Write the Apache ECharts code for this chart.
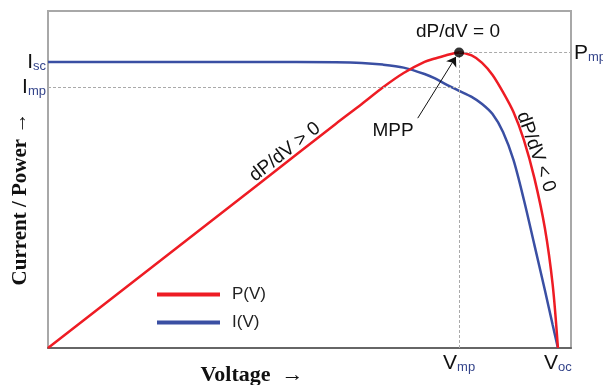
<!DOCTYPE html>
<html>
<head>
<meta charset="utf-8">
<script src="https://cdn.jsdelivr.net/npm/echarts@6/dist/echarts.min.js"></script>
<style>
  * { margin: 0; padding: 0; }
  body { background: #fff; }
  #chart { width: 603px; height: 385px; }
</style>
</head>
<body>
<div id="chart"></div>
<script>
// voltage samples (0..100 = full width of the plot box)
var voltage = [0, 40, 55, 60, 64, 68, 72, 74, 76, 78.6, 81, 83, 85, 87, 89, 91, 93, 95, 96.5, 97.5];
// I(V)
var current = [84.9, 84.9, 84.8, 84.6, 84.1, 83.2, 81.3, 80.0, 78.3, 76.3, 74.5, 72.4, 69.4, 64.1, 55.8, 43.9, 30.6, 17.2, 6.8, 0];
// P(V)
var power = [0, 48.3, 66.5, 72.4, 77.3, 81.6, 84.9, 85.9, 86.8, 87.7, 86.8, 84.6, 81.0, 75.9, 70.0, 61.7, 50.4, 35.6, 18.7, 0];

// key points
var vmp = 78.6, voc = 97.5;
var isc = 84.9, imp = 77.4, pmp = 87.7;
var xTicks = [vmp, voc];
var xTickLabels = ['{m|V}{s|mp}', '{m|V}{s|oc}'];
var yTicks = [isc, imp];
var yTickLabels = ['{m|I}{s|sc}', '{m|I}{s|mp}'];
var rightTicks = [pmp];
var rightTickLabels = ['{m|P}{s|mp}'];
var mppArrow = [[70.7, 68.2], [78.0, 86.4]];

var sans = 'Liberation Sans, Arial, sans-serif';
var serif = 'Liberation Serif, Times New Roman, serif';
var rich = {
  m: { fontSize: 21, fontFamily: sans, color: '#111', verticalAlign: 'bottom', lineHeight: 22 },
  s: { fontSize: 13, fontFamily: sans, color: '#34448a', verticalAlign: 'bottom', lineHeight: 13 }
};

function pick(ticks, labels) {
  return function (v) {
    for (var i = 0; i < ticks.length; i++) {
      if (Math.abs(ticks[i] - v) < 1e-6) return labels[i];
    }
    return '';
  };
}

var chart = echarts.init(document.getElementById('chart'));
chart.setOption({
  animation: false,
  backgroundColor: '#fff',
  grid: {
    left: 48, right: 32, top: 11, bottom: 37,
    outerBoundsMode: 'none',
    containLabel: false,
    show: true, borderColor: '#a8a8a8', borderWidth: 2
  },
  legend: {
    data: ['P(V)', 'I(V)'],
    orient: 'vertical',
    left: 157, top: 286,
    padding: 0,
    icon: 'rect',
    itemWidth: 63, itemHeight: 4, itemGap: 11,
    textStyle: { fontSize: 17, fontFamily: sans, color: '#222', padding: [0, 0, 0, 7] }
  },
  xAxis: {
    type: 'value', min: 0, max: 100,
    splitLine: { show: false },
    axisTick: { show: false },
    axisLine: { lineStyle: { color: '#666', width: 2 } },
    axisLabel: {
      customValues: xTicks,
      formatter: pick(xTicks, xTickLabels),
      rich: rich, margin: 4
    }
  },
  yAxis: [{
    type: 'value', min: 0, max: 100,
    splitLine: { show: false },
    axisTick: { show: false },
    axisLine: { show: true, lineStyle: { color: '#a8a8a8', width: 2 } },
    axisLabel: {
      customValues: yTicks,
      formatter: pick(yTicks, yTickLabels),
      rich: rich, margin: 2
    }
  }, {
    type: 'value', min: 0, max: 100, position: 'right',
    splitLine: { show: false },
    axisTick: { show: false },
    axisLine: { show: false },
    axisLabel: {
      customValues: rightTicks,
      formatter: pick(rightTicks, rightTickLabels),
      rich: rich, margin: 3
    }
  }],
  series: [{
    name: 'I(V)',
    type: 'line',
    data: voltage.map(function (v, i) { return [v, current[i]]; }),
    smooth: 0.3,
    showSymbol: false,
    lineStyle: { color: '#3a4fa3', width: 2.5 },
    itemStyle: { color: '#3a4fa3' }
  }, {
    name: 'P(V)',
    type: 'line',
    data: voltage.map(function (v, i) { return [v, power[i]]; }),
    smooth: 0.3,
    showSymbol: false,
    lineStyle: { color: '#ee1c24', width: 2.5 },
    itemStyle: { color: '#ee1c24' }
  }, {
    name: 'MPP',
    type: 'scatter',
    data: [[vmp, pmp]],
    symbolSize: 10,
    itemStyle: { color: '#000' },
    z: 5,
    markLine: {
      silent: true,
      symbol: 'none',
      label: { show: false },
      lineStyle: { color: '#aaa', type: [3, 2], width: 1 },
      data: [
        [{ coord: [0, imp] }, { coord: [vmp, imp] }],
        [{ coord: [vmp, 0] }, { coord: [vmp, pmp] }],
        [{ coord: [vmp, pmp] }, { coord: [100, pmp] }],
        [{ coord: mppArrow[0], symbol: 'none', lineStyle: { color: '#111', type: 'solid', width: 1 } },
         { coord: mppArrow[1], symbol: 'arrow', symbolSize: 9 }]
      ]
    }
  }],
  graphic: [
    { type: 'text', x: 458, y: 32, style: { text: 'dP/dV = 0', font: '19px ' + sans, fill: '#111', align: 'center', verticalAlign: 'middle' } },
    { type: 'text', x: 393, y: 131, style: { text: 'MPP', font: '19px ' + sans, fill: '#111', align: 'center', verticalAlign: 'middle' } },
    { type: 'text', x: 285, y: 152, rotation: 0.66, style: { text: 'dP/dV > 0', font: '19px ' + sans, fill: '#111', align: 'center', verticalAlign: 'middle' } },
    { type: 'text', x: 536, y: 152, rotation: -1.23, style: { text: 'dP/dV < 0', font: '19px ' + sans, fill: '#111', align: 'center', verticalAlign: 'middle' } },
    { type: 'text', x: 252, y: 375, style: { text: 'Voltage  \u2192', font: 'bold 22px ' + serif, fill: '#111', align: 'center', verticalAlign: 'middle' } },
    { type: 'text', x: 21, y: 199, rotation: Math.PI / 2, style: { text: 'Current / Power \u2192', font: 'bold 21px ' + serif, fill: '#111', align: 'center', verticalAlign: 'middle' } }
  ]
});
</script>
</body>
</html>
